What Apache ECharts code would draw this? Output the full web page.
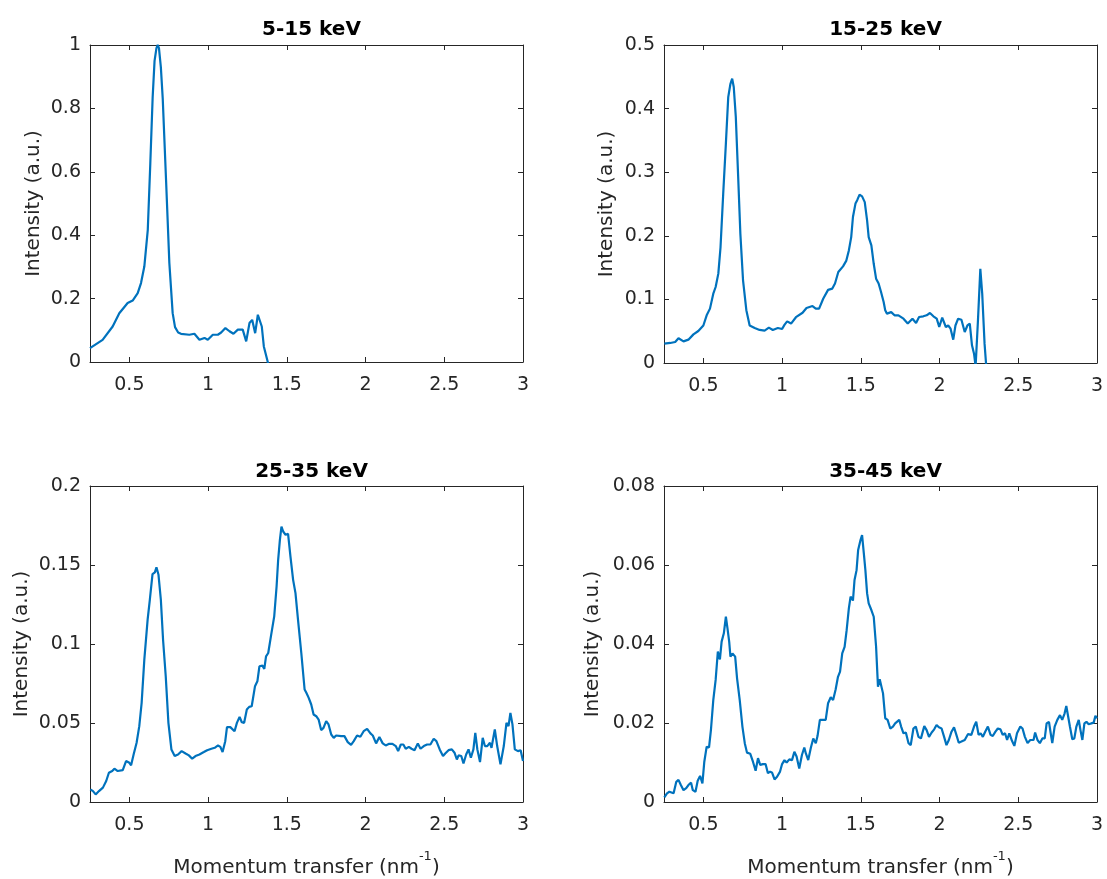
<!DOCTYPE html>
<html>
<head>
<meta charset="utf-8">
<script src="https://cdn.jsdelivr.net/npm/echarts@6/dist/echarts.min.js"></script>
<style>
html,body{margin:0;padding:0;background:#fff;}
#chart{width:1107px;height:879px;}
</style>
</head>
<body>
<div id="chart"></div>
<script>
// ---- Data ----
const titles = ['5-15 keV', '15-25 keV', '25-35 keV', '35-45 keV'];
const xTicks = [0.5, 1, 1.5, 2, 2.5, 3];

// 5-15 keV
const q1 = [0.25,0.33,0.394,0.436,0.489,0.521,0.553,0.574,0.595,0.617,0.633,0.648,0.66,0.672,0.68,0.688,0.70,0.712,0.733,0.754,0.775,0.79,0.81,0.828,0.881,0.913,0.945,0.977,0.998,1.03,1.062,1.083,1.11,1.136,1.161,1.189,1.22,1.242,1.263,1.28,1.299,1.316,1.326,1.341,1.354,1.364,1.379,1.39];
const i1 = [0.044,0.07,0.112,0.154,0.186,0.194,0.217,0.249,0.301,0.417,0.626,0.836,0.95,0.99,1.0,0.99,0.93,0.83,0.574,0.312,0.154,0.11,0.093,0.089,0.086,0.089,0.07,0.076,0.07,0.086,0.086,0.093,0.107,0.097,0.089,0.102,0.102,0.065,0.123,0.133,0.091,0.149,0.154,0.112,0.049,0.044,0.0,-0.03];

// 15-25 keV
const q2 = [0.252,0.29,0.321,0.342,0.374,0.405,0.437,0.468,0.5,0.521,0.542,0.563,0.578,0.595,0.609,0.626,0.643,0.658,0.672,0.683,0.693,0.706,0.721,0.735,0.752,0.773,0.794,0.826,0.857,0.889,0.916,0.941,0.973,1.0,1.015,1.032,1.057,1.088,1.13,1.155,1.193,1.214,1.235,1.261,1.292,1.319,1.336,1.357,1.387,1.408,1.424,1.439,1.45,1.466,1.477,1.492,1.508,1.525,1.54,1.55,1.567,1.582,1.597,1.613,1.628,1.645,1.655,1.666,1.693,1.714,1.739,1.771,1.798,1.828,1.851,1.87,1.897,1.918,1.939,1.961,1.982,1.998,2.017,2.04,2.055,2.07,2.087,2.101,2.118,2.139,2.15,2.16,2.177,2.192,2.206,2.219,2.229,2.244,2.259,2.271,2.286,2.298];
const i2 = [0.0304,0.0315,0.033,0.039,0.034,0.0367,0.045,0.0503,0.059,0.075,0.0855,0.109,0.1195,0.1405,0.182,0.266,0.345,0.418,0.439,0.447,0.434,0.387,0.293,0.203,0.13,0.083,0.059,0.055,0.052,0.051,0.0556,0.052,0.055,0.0535,0.06,0.0655,0.062,0.072,0.079,0.0865,0.0896,0.0855,0.0855,0.101,0.115,0.117,0.125,0.143,0.152,0.161,0.177,0.198,0.2296,0.2506,0.256,0.2647,0.262,0.253,0.224,0.198,0.185,0.156,0.1326,0.125,0.112,0.096,0.083,0.0776,0.08,0.075,0.075,0.0697,0.062,0.0697,0.063,0.0723,0.0734,0.075,0.0786,0.0734,0.0697,0.0566,0.0713,0.0566,0.059,0.054,0.0367,0.059,0.0697,0.068,0.0697,0.0488,0.059,0.062,0.0278,0.0147,-0.005,0.067,0.148,0.109,0.03,-0.01];

// 25-35 keV
const q3 = [0.252,0.269,0.286,0.307,0.332,0.353,0.37,0.391,0.405,0.426,0.458,0.479,0.5,0.511,0.527,0.546,0.563,0.578,0.595,0.616,0.63,0.647,0.662,0.672,0.685,0.7,0.714,0.731,0.748,0.767,0.788,0.809,0.832,0.857,0.878,0.899,0.92,0.945,0.973,0.994,1.021,1.042,1.063,1.078,1.092,1.109,1.12,1.141,1.168,1.183,1.2,1.214,1.229,1.246,1.261,1.277,1.298,1.313,1.326,1.345,1.357,1.368,1.382,1.399,1.42,1.435,1.445,1.456,1.466,1.477,1.492,1.508,1.523,1.54,1.555,1.571,1.592,1.613,1.624,1.639,1.655,1.67,1.687,1.702,1.718,1.733,1.75,1.765,1.782,1.798,1.813,1.845,1.866,1.887,1.908,1.925,1.946,1.967,1.988,2.01,2.031,2.046,2.067,2.088,2.109,2.128,2.15,2.171,2.192,2.207,2.224,2.24,2.255,2.275,2.292,2.311,2.332,2.349,2.37,2.391,2.412,2.433,2.45,2.471,2.492,2.506,2.527,2.548,2.565,2.58,2.591,2.608,2.622,2.639,2.654,2.669,2.685,2.697,2.71,2.727,2.744,2.758,2.773,2.79,2.8,2.821,2.836,2.857,2.878,2.895,2.908,2.92,2.933,2.948,2.968,2.985,3.0];
const i3 = [0.008,0.0069,0.0048,0.0069,0.0091,0.0133,0.0185,0.0196,0.0211,0.0196,0.0202,0.0259,0.0248,0.0232,0.0301,0.0375,0.048,0.0627,0.0901,0.1154,0.128,0.1442,0.1453,0.1486,0.1438,0.128,0.1027,0.0796,0.0501,0.0333,0.0291,0.0301,0.0322,0.0307,0.0295,0.0274,0.0291,0.0301,0.0316,0.0328,0.0337,0.0343,0.0358,0.0349,0.0316,0.0385,0.0474,0.0474,0.0448,0.0501,0.0539,0.0505,0.0501,0.0585,0.0602,0.0606,0.0733,0.0764,0.0859,0.0863,0.0842,0.0922,0.0943,0.1048,0.1175,0.1364,0.1533,0.1659,0.1743,0.1712,0.1691,0.1697,0.1554,0.1406,0.1322,0.1154,0.0943,0.0712,0.0691,0.0659,0.0617,0.0554,0.0543,0.0522,0.0455,0.0469,0.0512,0.0491,0.0427,0.0406,0.0421,0.0417,0.0417,0.0379,0.0362,0.0385,0.0421,0.0413,0.0448,0.0463,0.0434,0.0421,0.0371,0.0411,0.0371,0.0358,0.0368,0.0368,0.0354,0.0322,0.0364,0.0364,0.0337,0.0349,0.0337,0.0328,0.0371,0.0337,0.0354,0.0364,0.0364,0.04,0.0385,0.0333,0.0291,0.0307,0.0328,0.0333,0.0312,0.0269,0.0295,0.0291,0.0244,0.0301,0.0333,0.028,0.0333,0.0438,0.0333,0.0253,0.0406,0.0354,0.0354,0.0375,0.0343,0.0459,0.0354,0.0238,0.0354,0.0501,0.048,0.0564,0.0491,0.0333,0.0322,0.0328,0.0259];

// 35-45 keV
const q4 = [0.252,0.269,0.284,0.311,0.328,0.342,0.357,0.374,0.391,0.405,0.422,0.433,0.45,0.464,0.479,0.494,0.506,0.521,0.536,0.548,0.563,0.578,0.592,0.605,0.616,0.63,0.643,0.653,0.664,0.672,0.685,0.702,0.714,0.731,0.748,0.763,0.777,0.798,0.815,0.832,0.847,0.861,0.878,0.895,0.91,0.924,0.937,0.952,0.968,0.987,1.0,1.015,1.029,1.046,1.063,1.078,1.092,1.109,1.126,1.141,1.151,1.166,1.183,1.198,1.214,1.225,1.24,1.256,1.277,1.292,1.309,1.324,1.34,1.355,1.368,1.382,1.397,1.41,1.424,1.435,1.45,1.46,1.473,1.483,1.498,1.508,1.519,1.529,1.54,1.55,1.567,1.582,1.597,1.609,1.62,1.63,1.641,1.655,1.67,1.687,1.704,1.718,1.729,1.744,1.756,1.771,1.786,1.803,1.817,1.834,1.849,1.866,1.882,1.903,1.918,1.933,1.95,1.966,1.981,1.996,2.013,2.029,2.044,2.059,2.076,2.092,2.107,2.122,2.139,2.16,2.181,2.202,2.219,2.233,2.248,2.261,2.275,2.29,2.307,2.324,2.338,2.355,2.37,2.387,2.401,2.416,2.429,2.443,2.46,2.475,2.492,2.513,2.527,2.542,2.559,2.576,2.597,2.607,2.622,2.637,2.653,2.668,2.68,2.695,2.706,2.716,2.731,2.748,2.765,2.779,2.794,2.805,2.815,2.828,2.843,2.856,2.869,2.884,2.895,2.907,2.92,2.933,2.947,2.964,2.979,2.99,3.0];
const i4 = [0.0012,0.0022,0.0026,0.0022,0.0051,0.0056,0.0043,0.003,0.0035,0.0043,0.0049,0.003,0.0026,0.0054,0.0066,0.0047,0.0102,0.014,0.0138,0.0182,0.0258,0.0309,0.0381,0.0361,0.0406,0.0427,0.0469,0.044,0.0406,0.0368,0.0376,0.0368,0.0313,0.0258,0.0191,0.0149,0.0125,0.0122,0.0102,0.0079,0.0111,0.0094,0.0096,0.0096,0.0073,0.0077,0.0074,0.0057,0.0064,0.0077,0.0096,0.0106,0.01,0.0108,0.0106,0.0127,0.0115,0.0085,0.0119,0.0138,0.0123,0.0106,0.0138,0.0161,0.0149,0.0167,0.0208,0.0208,0.0208,0.025,0.0265,0.0258,0.0285,0.0317,0.033,0.0376,0.0393,0.0435,0.049,0.052,0.051,0.0562,0.0587,0.0638,0.0663,0.0676,0.063,0.0587,0.0528,0.0503,0.0486,0.0469,0.0393,0.0292,0.0311,0.0316,0.0275,0.0212,0.0208,0.0186,0.0191,0.0199,0.0195,0.0208,0.0191,0.0174,0.0176,0.0149,0.0144,0.0186,0.0191,0.0165,0.0161,0.0192,0.0182,0.0165,0.0176,0.0184,0.0195,0.0189,0.0186,0.0165,0.0144,0.0157,0.0178,0.0189,0.017,0.015,0.0153,0.0157,0.0172,0.017,0.0191,0.0203,0.017,0.0174,0.0165,0.0178,0.0191,0.017,0.0167,0.0178,0.0186,0.0184,0.017,0.0174,0.0157,0.0174,0.0155,0.0142,0.0174,0.0191,0.0186,0.0165,0.0149,0.0157,0.0157,0.0176,0.0157,0.0149,0.0161,0.0161,0.0199,0.0203,0.0174,0.0149,0.0191,0.0208,0.022,0.0208,0.0224,0.0243,0.0241,0.0191,0.0159,0.0161,0.0191,0.0208,0.0182,0.0157,0.0199,0.0203,0.0197,0.0199,0.0201,0.0218,0.0212];

const yMax = [1, 0.5, 0.2, 0.08];
const yStep = [0.2, 0.1, 0.05, 0.02];
const qs = [q1, q2, q3, q4];
const is = [i1, i2, i3, i4];

// ---- Layout ----
const grids = [
  {left: 90, top: 45, width: 433, height: 317},
  {left: 664, top: 45, width: 433, height: 318},
  {left: 90, top: 486, width: 433, height: 317},
  {left: 664, top: 486, width: 433, height: 317}
];
const yNameGap = [46, 47, 58, 61];
const FONT = 'DejaVu Sans';
const AX = '#262626';
const LINE = '#0072BD';

const xAxes = [], yAxes = [], series = [], titleArr = [];
for (let k = 0; k < 4; k++) {
  const g = grids[k];
  titleArr.push({
    text: titles[k],
    left: g.left + g.width / 2,
    top: k < 2 ? 15 : 457,
    textAlign: 'center',
    textStyle: {fontFamily: FONT, fontSize: 20, fontWeight: 'bold', color: '#000'}
  });
  const bottomX = {
    type: 'value', gridIndex: k, position: 'bottom', min: 0.25, max: 3,
    axisLine: {show: true, onZero: false, lineStyle: {color: AX, width: 1}},
    axisTick: {show: true, inside: true, length: 5, customValues: xTicks, lineStyle: {color: AX}},
    axisLabel: {show: true, customValues: xTicks, margin: 14, fontFamily: FONT, fontSize: 19, color: AX},
    splitLine: {show: false}
  };
  if (k >= 2) {
    bottomX.name = '{m|Momentum transfer (nm}{sup|-1}{m|)}';
    bottomX.nameLocation = 'middle';
    bottomX.nameGap = 48;
    bottomX.nameTextStyle = {
      fontFamily: FONT, fontSize: 20, color: AX, lineHeight: 28,
      rich: {
        m: {fontFamily: FONT, fontSize: 20, color: AX, lineHeight: 28, verticalAlign: 'bottom'},
        sup: {fontFamily: FONT, fontSize: 13, color: AX, lineHeight: 13, verticalAlign: 'top'}
      }
    };
  }
  xAxes.push(bottomX);
  xAxes.push({
    type: 'value', gridIndex: k, position: 'top', min: 0.25, max: 3,
    axisLine: {show: true, onZero: false, lineStyle: {color: AX, width: 1}},
    axisTick: {show: true, inside: true, length: 5, customValues: xTicks, lineStyle: {color: AX}},
    axisLabel: {show: false},
    splitLine: {show: false}
  });
  yAxes.push({
    type: 'value', gridIndex: k, position: 'left', min: 0, max: yMax[k], interval: yStep[k],
    name: 'Intensity (a.u.)', nameLocation: 'middle', nameGap: yNameGap[k],
    nameTextStyle: {fontFamily: FONT, fontSize: 20, color: AX},
    axisLine: {show: true, onZero: false, lineStyle: {color: AX, width: 1}},
    axisTick: {show: true, inside: true, length: 5, lineStyle: {color: AX}},
    axisLabel: {show: true, margin: 9, fontFamily: FONT, fontSize: 19, color: AX},
    splitLine: {show: false}
  });
  yAxes.push({
    type: 'value', gridIndex: k, position: 'right', min: 0, max: yMax[k], interval: yStep[k],
    axisLine: {show: true, onZero: false, lineStyle: {color: AX, width: 1}},
    axisTick: {show: true, inside: true, length: 5, lineStyle: {color: AX}},
    axisLabel: {show: false},
    splitLine: {show: false}
  });
  series.push({
    type: 'line', xAxisIndex: 2 * k, yAxisIndex: 2 * k,
    data: qs[k].map((q, j) => [q, is[k][j]]),
    showSymbol: false, symbol: 'none', clip: true,
    lineStyle: {color: LINE, width: 2.2},
    itemStyle: {color: LINE},
    animation: false
  });
}

const chart = echarts.init(document.getElementById('chart'), null, {renderer: 'canvas'});
chart.setOption({
  backgroundColor: '#fff',
  animation: false,
  title: titleArr,
  grid: grids,
  xAxis: xAxes,
  yAxis: yAxes,
  series: series
});
</script>
</body>
</html>
